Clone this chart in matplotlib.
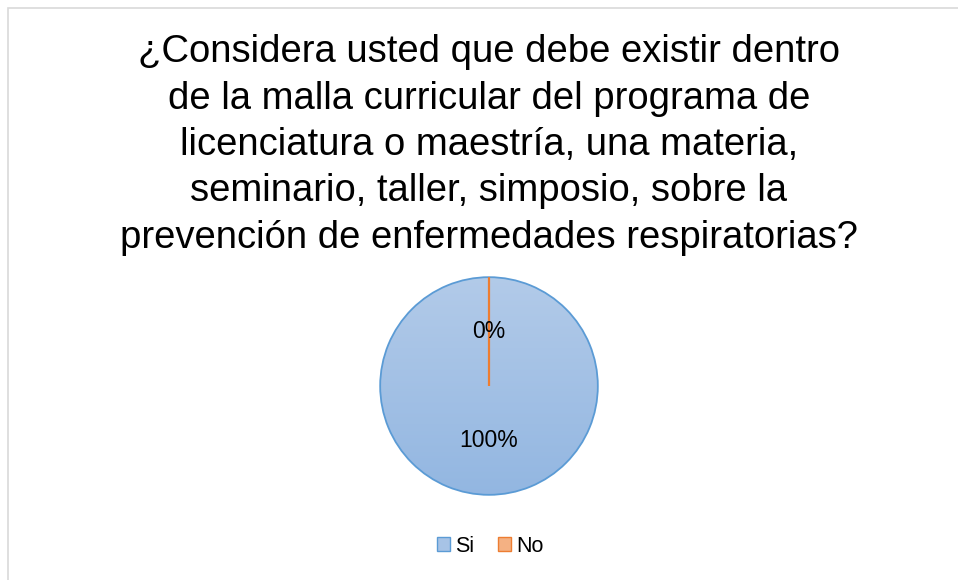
import matplotlib.pyplot as plt
import numpy as np
from matplotlib.patches import Rectangle, Patch
from matplotlib.colors import LinearSegmentedColormap

plt.rcParams['font.family'] = ['Liberation Sans', 'DejaVu Sans']

categorias = ["Si", "No"]
valores = [100, 0]
titulo = ("¿Considera usted que debe existir dentro\n"
          "de la malla curricular del programa de\n"
          "licenciatura o maestría, una materia,\n"
          "seminario, taller, simposio, sobre la\n"
          "prevención de enfermedades respiratorias?")

W, H = 958, 580
fig = plt.figure(figsize=(W / 100, H / 100), dpi=100)

# marco gris del grafico (se corta a la derecha y abajo)
fig.patches.append(Rectangle((8 / W, -0.1), 1.2, 1 - 8 / H + 0.1,
                             transform=fig.transFigure, fill=False,
                             edgecolor='#d9d9d9', linewidth=1.2))

fig.text(489 / W, 1 - 145 / H, titulo, ha='center', va='center',
         fontsize=27.5, linespacing=1.37, color='#000000')

# pie: centro (489, 386), radio ~111
r = 111
ax = fig.add_axes([(489 - r) / W, 1 - (386 + r) / H, 2 * r / W, 2 * r / H])
wedges, textos, autotextos = ax.pie(
    valores, startangle=90, counterclock=False,
    colors=['#a7c3e6', '#f4b183'],
    wedgeprops=dict(linewidth=1.3),
    autopct='%1.0f%%', pctdistance=0.5,
    textprops=dict(fontsize=16.5, color='#000000'))
wedges[0].set_edgecolor('#5b9bd5')
wedges[1].set_edgecolor('#ed7d31')
wedges[1].set_linewidth(1.6)

# degradado en la porcion azul
cmap = LinearSegmentedColormap.from_list('g', ['#92b6e1', '#b3cbe9'])
grad = np.linspace(0, 1, 256).reshape(-1, 1)
img = ax.imshow(grad, extent=[-1.05, 1.05, -1.05, 1.05], origin='lower',
                cmap=cmap, aspect='auto', zorder=wedges[0].get_zorder() + 0.1)
img.set_clip_path(wedges[0])
wedges[0].set_facecolor('none')
for w in wedges:
    w.set_zorder(img.get_zorder() + 0.1)
for t in autotextos:
    t.set_zorder(5)
ax.set_xlim(-1.02, 1.02)
ax.set_ylim(-1.02, 1.02)
ax.set_aspect('equal')
ax.axis('off')

# leyenda
handles = [Patch(facecolor='#a7c3e6', edgecolor='#5b9bd5'),
           Patch(facecolor='#f4b183', edgecolor='#ed7d31')]
fig.legend(handles, categorias, loc='center', bbox_to_anchor=(490 / W, 1 - 546 / H),
           ncol=2, frameon=False, fontsize=15.5, handlelength=0.6, handleheight=0.6,
           handletextpad=0.25, columnspacing=1.1)

fig.savefig('out.png', dpi=100, facecolor='white')
